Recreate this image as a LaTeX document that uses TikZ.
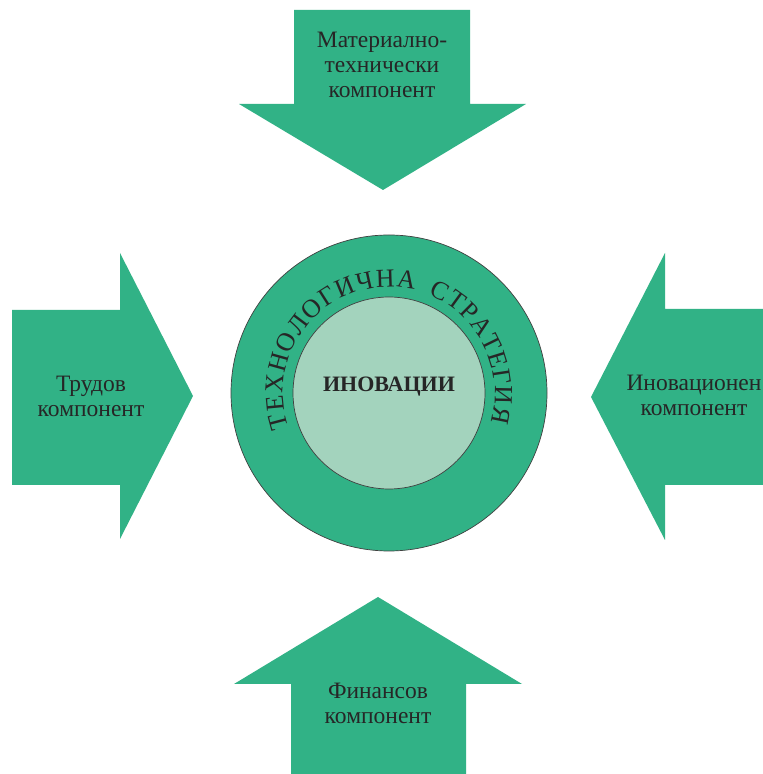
\documentclass[tikz,border=0pt]{standalone}
\usepackage{fontspec}
\setmainfont{Liberation Serif}
\usetikzlibrary{decorations.text}
\definecolor{compgreen}{RGB}{49,178,134}
\definecolor{innergreen}{RGB}{163,211,189}
\tikzset{arrowbody/.style={fill=compgreen},
         complabel/.style={align=center,text=black!85,font=\fontsize{23.5}{25}\selectfont},
         ring/.style={draw=black!75,line width=0.7pt},
         ringtext/.style={decorate,decoration={text along path,text align=fit to path,
            text={|\fontsize{26}{26}\selectfont\color{black!85}|#1}}}
}
\begin{document}
\begin{tikzpicture}[x=1pt,y=1pt]
  \useasboundingbox[fill=white](0,0)rectangle(763,774);
  % four arrows
  \fill[arrowbody](294,764)--(470,764)--(470,670)--(526,670)--(383,584)--(239,670)--(294,670)--cycle;
  \fill[arrowbody](12,464)--(120,464)--(120,521)--(193,378)--(120,235)--(120,289)--(12,289)--cycle;
  \fill[arrowbody](763,465)--(665,465)--(665,521)--(591,377)--(665,234)--(665,289)--(763,289)--cycle;
  \fill[arrowbody](291,0)--(291,90)--(234,90)--(378,177)--(522,90)--(466,90)--(466,0)--cycle;
  \node[complabel](mat)at(382,709){Материално-\\технически\\компонент};
  \node[complabel](trud)at(91,378){Трудов\\компонент};
  \node[complabel](inov)at(694,379){Иновационен\\компонент};
  \node[complabel](fin)at(378,71){Финансов\\компонент};
  % circles
  \coordinate(c)at(389,381);
  \draw[ring,fill=compgreen](c)circle(158);
  \draw[ring,fill=innergreen](c)circle(96);
  \path[ringtext=ТЕХНОЛОГИЧНА](c)++(199:106)arc[start angle=199,end angle=76,radius=106];
  \path[ringtext=СТРАТЕГИЯ](c)++(68:106)arc[start angle=68,end angle=-16,radius=106];
  \node[font=\fontsize{22}{22}\selectfont\bfseries,text=black!85](ino)at(389,387){ИНОВАЦИИ};
\end{tikzpicture}
\end{document}
